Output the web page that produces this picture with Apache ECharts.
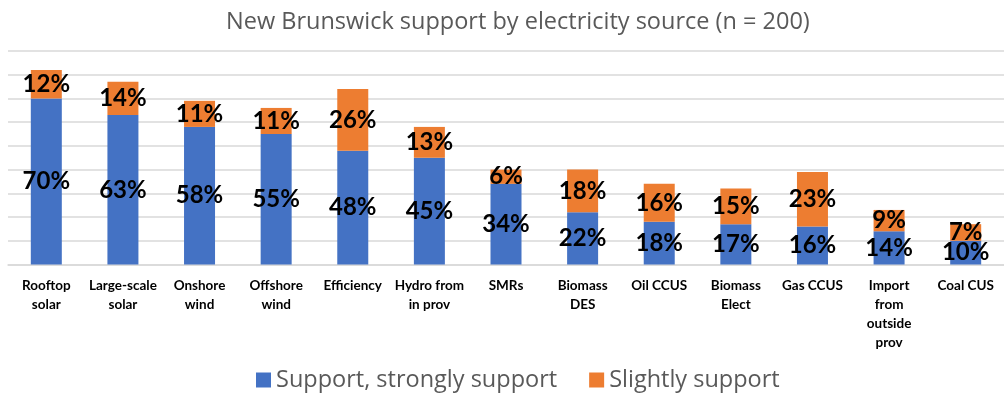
<!DOCTYPE html>
<html>
<head>
<meta charset="utf-8">
<script src="https://cdn.jsdelivr.net/npm/echarts@6/dist/echarts.min.js"></script>
<style>
  html, body { margin: 0; padding: 0; background: #fff; }
  #chart { width: 1004px; height: 394px; }
</style>
</head>
<body>
<div id="chart"></div>
<script>
const categories = [
  'Rooftop\nsolar', 'Large-scale\nsolar', 'Onshore\nwind', 'Offshore\nwind',
  'Efficiency', 'Hydro from\nin prov', 'SMRs', 'Biomass\nDES', 'Oil CCUS',
  'Biomass\nElect', 'Gas CCUS', 'Import\nfrom\noutside\nprov', 'Coal CUS'
];
const supportStrongly = [70, 63, 58, 55, 48, 45, 34, 22, 18, 17, 16, 14, 10];
const slightlySupport = [12, 14, 11, 11, 26, 13, 6, 18, 16, 15, 23, 9, 7];

const chart = echarts.init(document.getElementById('chart'));

const labelStyle = {
  show: true,
  position: 'inside',
  formatter: '{c}%',
  color: '#000',
  fontFamily: 'Lato',
  fontWeight: 'bold',
  fontSize: 24
};

chart.setOption({
  animation: false,
  title: {
    text: 'New Brunswick support by electricity source (n = 200)',
    left: 226,
    top: 10,
    padding: 0,
    textStyle: {
      fontFamily: 'Open Sans',
      fontWeight: 'normal',
      fontSize: 23.5,
      color: '#595959'
    }
  },
  legend: {
    data: ['Support, strongly support', 'Slightly support'],
    left: 251,
    top: 363,
    icon: 'rect',
    itemWidth: 15,
    itemHeight: 15,
    itemGap: 32,
    textStyle: {
      fontFamily: 'Open Sans',
      fontSize: 23.5,
      color: '#595959'
    }
  },
  grid: {
    left: 8,
    right: -8,
    top: 51,
    bottom: 129.5,
    containLabel: false
  },
  xAxis: {
    type: 'category',
    data: categories,
    axisTick: { show: false },
    axisLine: { lineStyle: { color: '#d9d9d9', width: 1.5 } },
    axisLabel: {
      interval: 0,
      margin: 12,
      color: '#000',
      fontFamily: 'Lato',
      fontWeight: 'bold',
      fontSize: 13.5,
      lineHeight: 19
    }
  },
  yAxis: {
    type: 'value',
    min: 0,
    max: 90,
    interval: 10,
    axisLabel: { show: false },
    axisLine: { show: false },
    axisTick: { show: false },
    splitLine: { lineStyle: { color: '#d9d9d9', width: 1.5 } }
  },
  series: [
    {
      name: 'Support, strongly support',
      type: 'bar',
      stack: 'total',
      barWidth: 31,
      data: supportStrongly,
      itemStyle: { color: '#4472C4' },
      label: labelStyle
    },
    {
      name: 'Slightly support',
      type: 'bar',
      stack: 'total',
      barWidth: 31,
      data: slightlySupport,
      itemStyle: { color: '#ED7D31' },
      label: labelStyle
    }
  ]
});
</script>
</body>
</html>
